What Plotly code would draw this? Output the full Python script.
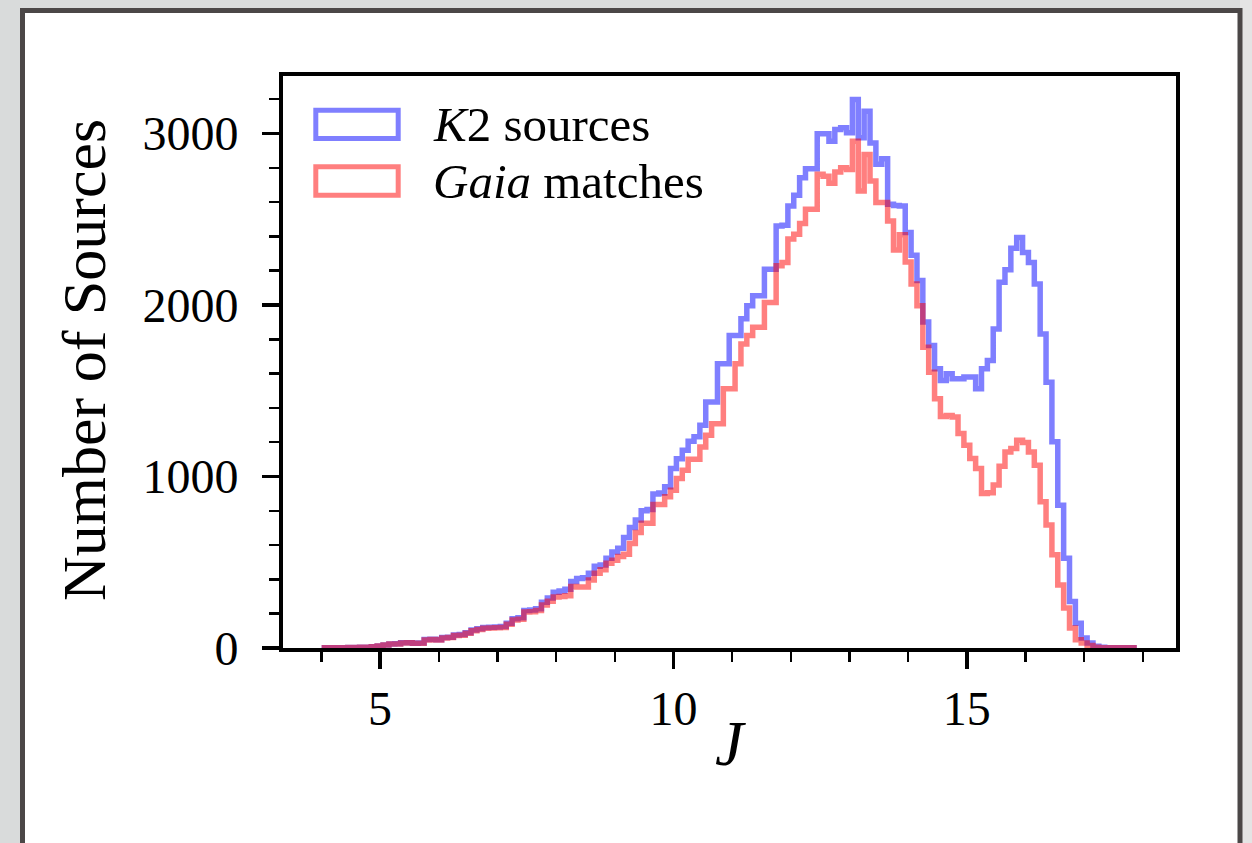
import plotly.graph_objects as go

# Histogram of J magnitudes (bin width 0.1 mag, first bin starts at 4.05)
bin_start = 4.05
bin_width = 0.1

k2_counts = [
    1, 1, 2, 2, 3, 3, 4, 5, 8, 12,
    18, 24, 25, 30, 31, 28, 29, 49, 51, 48,
    61, 63, 76, 78, 89, 105, 112, 119, 121, 123,
    125, 145, 170, 176, 218, 222, 229, 267, 291, 325,
    332, 343, 388, 405, 409, 436, 477, 484, 523, 560,
    581, 644, 702, 746, 800, 808, 898, 903, 940, 1047,
    1104, 1153, 1205, 1231, 1298, 1434, 1434, 1657, 1657, 1822,
    1822, 1919, 1996, 2054, 2054, 2209, 2209, 2461, 2465, 2577,
    2640, 2742, 2794, 2794, 2998, 2998, 2955, 3023, 3033, 3004,
    3198, 2975, 3130, 2945, 2820, 2853, 2587, 2580, 2577, 2422,
    2290, 2142, 1900, 1764, 1628, 1560, 1599, 1570, 1570, 1580,
    1580, 1512, 1628, 1676, 1860, 2132, 2205, 2330, 2393, 2306,
    2248, 2122, 1831, 1550, 1202, 833, 523, 271, 145, 58,
    29, 10, 4, 2, 1, 1, 1, 1,
]

gaia_counts = [
    1, 1, 2, 2, 3, 3, 4, 5, 8, 11,
    17, 23, 24, 29, 30, 27, 28, 47, 49, 46,
    58, 61, 73, 75, 86, 101, 108, 115, 117, 118,
    120, 139, 163, 168, 210, 212, 218, 250, 272, 298,
    300, 304, 359, 355, 355, 397, 436, 456, 494, 511,
    533, 547, 610, 674, 727, 727, 837, 837, 882, 920,
    988, 1037, 1100, 1100, 1172, 1240, 1308, 1308, 1512, 1512,
    1657, 1773, 1822, 1870, 1870, 2015, 2015, 2229, 2248, 2384,
    2413, 2475, 2558, 2558, 2762, 2750, 2709, 2775, 2800, 2790,
    2955, 2665, 2878, 2723, 2597, 2597, 2490, 2320, 2410, 2250,
    2122, 1996, 1754, 1608, 1453, 1350, 1355, 1347, 1250, 1182,
    1105, 1047, 901, 905, 950, 1060, 1143, 1163, 1211, 1198,
    1143, 1066, 853, 717, 543, 368, 233, 116, 48, 29,
    15, 5, 2, 1, 1, 1, 1, 1,
]

series_names = ["<i>K</i>2 sources", "<i>Gaia</i> matches"]
series_colors = ["rgba(0,0,255,0.5)", "rgba(255,0,0,0.5)"]

x_tick_vals = [5, 10, 15]
y_tick_vals = [0, 1000, 2000, 3000]

FONT = "Liberation Serif"
PAGE_BG = "#d9dbdb"

# ---- layout geometry (pixels) ----
W, H = 1252, 843
ML, MR, MT, MB = 283, 76, 76, 195
PW = W - ML - MR
PH = H - MT - MB


def px_x(p):
    return (p - ML) / PW


def px_y(p):
    return (H - MB - p) / PH


def step_xy(counts):
    n = len(counts)
    edges = [bin_start + bin_width * i for i in range(n + 1)]
    xs = [edges[0]] + edges[:n] + [edges[n]]
    ys = [0] + list(counts) + [0]
    return xs, ys


fig = go.Figure()
for counts, name, color in zip([k2_counts, gaia_counts], series_names, series_colors):
    xs, ys = step_xy(counts)
    fig.add_trace(go.Scatter(
        x=xs, y=ys, mode="lines", name=name,
        line=dict(color=color, width=5.5, shape="hv"),
        showlegend=False, hoverinfo="skip",
    ))

axis_common = dict(
    showgrid=False, zeroline=False, showline=True, linecolor="black",
    linewidth=4, mirror=True, ticks="outside", tickcolor="black",
    ticklen=17, tickwidth=3.5,
    tickfont=dict(family=FONT, size=48, color="black"),
)

fig.update_xaxes(
    range=[3.345, 18.565], tickvals=x_tick_vals,
    ticklabelstandoff=-2,
    minor=dict(dtick=1, tick0=0, ticks="outside", ticklen=10, tickwidth=2.5, tickcolor="black"),
    **axis_common,
)
fig.update_yaxes(
    range=[0, 3335], tickvals=y_tick_vals,
    ticklabelstandoff=14,
    minor=dict(dtick=200, tick0=0, ticks="outside", ticklen=10, tickwidth=2.5, tickcolor="black"),
    **axis_common,
)

shapes = [
    # lighter strip at the right edge of the page
    dict(type="rect", xref="paper", yref="paper", layer="below",
         x0=px_x(1240), x1=px_x(1260), y0=px_y(860), y1=px_y(-10),
         line=dict(width=0), fillcolor="#e4e4e4"),
    # outer panel frame
    dict(type="rect", xref="paper", yref="paper", layer="below",
         x0=px_x(22.5), x1=px_x(1240), y0=px_y(870), y1=px_y(10.5),
         line=dict(color="#4b4747", width=5), fillcolor="white"),
]
annotations = []
legend_rows = [(110.2, 138.5, 124), (166.8, 195.2, 181)]
for (ytop, ybot, ytext), name, color in zip(legend_rows, series_names, series_colors):
    shapes.append(dict(type="rect", xref="paper", yref="paper",
                       x0=px_x(315.8), x1=px_x(398.2), y0=px_y(ybot), y1=px_y(ytop),
                       line=dict(color=color, width=5), fillcolor="rgba(0,0,0,0)"))
    annotations.append(dict(xref="paper", yref="paper", x=px_x(431), y=px_y(ytext),
                            xanchor="left", yanchor="middle", showarrow=False, text=name,
                            font=dict(family=FONT, size=49, color="black")))

annotations.append(dict(xref="paper", yref="paper", x=px_x(84), y=px_y(360),
                        xanchor="center", yanchor="middle", showarrow=False, textangle=-90,
                        text="Number of Sources", font=dict(family=FONT, size=62, color="black")))
annotations.append(dict(xref="paper", yref="paper", x=px_x(730), y=px_y(743),
                        xanchor="center", yanchor="middle", showarrow=False,
                        text="<i>J</i>", font=dict(family=FONT, size=64, color="black")))

fig.update_layout(
    width=W, height=H,
    margin=dict(l=ML, r=MR, t=MT, b=MB, pad=0),
    paper_bgcolor=PAGE_BG, plot_bgcolor="white",
    shapes=shapes, annotations=annotations,
    showlegend=False,
)

fig.write_html(
    "out.html",
    config={"displayModeBar": False, "staticPlot": True},
    post_script=(
        "document.body.style.margin='0px';"
        "document.body.style.background='" + PAGE_BG + "';"
        "document.documentElement.style.overflow='hidden';"
    ),
)
